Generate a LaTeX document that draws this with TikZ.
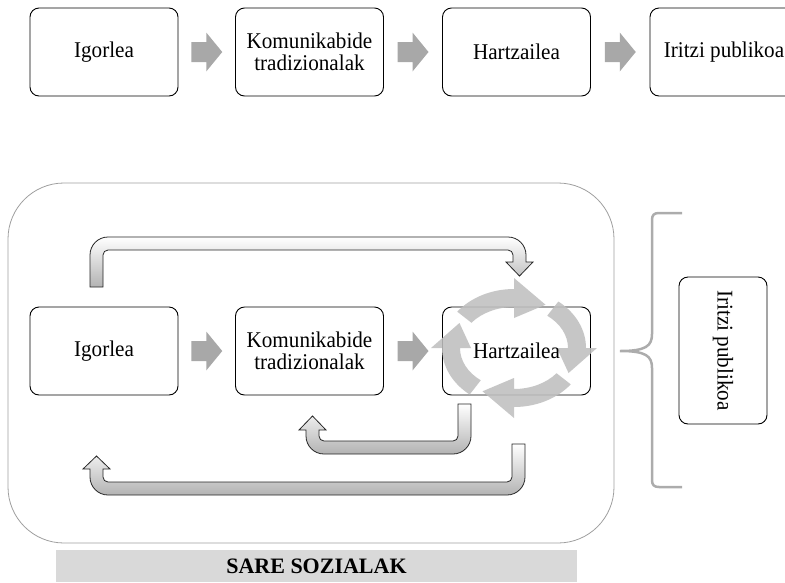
\documentclass[tikz,border=0pt]{standalone}
\usepackage{fontspec}
\setmainfont{Liberation Serif}[FakeStretch=0.94]
\newfontfamily\labelserif{Liberation Serif}
\usetikzlibrary{calc}
\tikzset{
  box/.style={draw=black, line width=0.9pt, rounded corners=9pt, fill=white,
    minimum width=148pt, minimum height=88pt, inner sep=0pt, align=center,
    font=\fontsize{22.5}{22.5}\selectfont},
  txt/.style={inner sep=0pt, align=center, font=\fontsize{22.5}{22.5}\selectfont},
  blockarr/.pic={\fill[gray!68] (-15.5,-10) -- (-0.5,-10) -- (-0.5,-19.5) -- (15.5,0)
     -- (-0.5,19.5) -- (-0.5,10) -- (-15.5,10) -- cycle;},
  bent/.style={draw=black!85, line width=0.8pt, top color=white, bottom color=gray!60},
  cyc/.style={fill=gray!50, fill opacity=0.88},
  bigframe/.style={draw=gray!75, line width=0.8pt, rounded corners=56pt},
  bracestyle/.style={draw=gray!65, line width=2.5pt},
}
\newcommand\cycseg[3]{%
  \path[cyc] (#1:72 and 59) arc[start angle=#1, end angle=#2, x radius=72, y radius=59]
    -- (#2:83 and 70) -- (#3:63 and 50) -- (#2:43 and 30) -- (#2:54 and 41)
    arc[start angle=#2, end angle=#1, x radius=54, y radius=41] -- cycle;}
\begin{document}
\begin{tikzpicture}[x=1pt,y=-1pt]
\useasboundingbox (0,0) rectangle (785,582);
\clip (0,0) rectangle (785,582);

% ---------- top row ----------
\node[box] (i1) at (104,52) {Igorlea};
\node[box] (k1) at (309.5,52) {Komunikabide\\tradizionalak};
\node[box] (h1) at (516.5,52) {Hartzailea};
\node[box] (p1) at (724,52) {Iritzi publikoa};
\pic at ($(i1.east)!0.5!(k1.west)$) {blockarr};
\pic at ($(k1.east)!0.5!(h1.west)$) {blockarr};
\pic at ($(h1.east)!0.5!(p1.west)$) {blockarr};

% ---------- social networks frame ----------
\draw[bigframe] (8,183) rectangle (614,543);

% ---------- bottom row ----------
\node[box] (i2) at (104,351) {Igorlea};
\node[box] (k2) at (309.5,351) {Komunikabide\\tradizionalak};
\node[box] (h2) at (516.5,351) {};
\pic at ($(i2.east)!0.5!(k2.west)$) {blockarr};
\pic at ($(k2.east)!0.5!(h2.west)$) {blockarr};

% bent arrow: Igorlea -> Hartzailea (over the top)
\path[bent] (90,287) -- (90,255) arc[start angle=180, end angle=270, radius=18]
  -- (508,237) arc[start angle=270, end angle=360, radius=18]
  -- (526,262) -- (533,262) -- (519.5,276) -- (506,262) -- (513,262) -- (513,255)
  arc[start angle=0, end angle=-90, radius=5] -- (108,250)
  arc[start angle=270, end angle=180, radius=5] -- (103,287) -- cycle;

% bent arrow: Hartzailea -> Komunikabide (below)
\path[bent] (458,404) -- (471,404) -- (471,436) arc[start angle=0, end angle=90, radius=18]
  -- (324,454) arc[start angle=90, end angle=180, radius=18]
  -- (306,430) -- (299,430) -- (312.5,416) -- (326,430) -- (319,430) -- (319,436)
  arc[start angle=180, end angle=90, radius=5] -- (453,441)
  arc[start angle=90, end angle=0, radius=5] -- cycle;

% bent arrow: Hartzailea -> Igorlea (below)
\path[bent] (512,444) -- (525,444) -- (525,477) arc[start angle=0, end angle=90, radius=18]
  -- (108,495) arc[start angle=90, end angle=180, radius=18]
  -- (90,469) -- (83,469) -- (96.5,456) -- (110,469) -- (103,469) -- (103,477)
  arc[start angle=180, end angle=90, radius=5] -- (507,482)
  arc[start angle=90, end angle=0, radius=5] -- cycle;

% cycle arrows around Hartzailea
\begin{scope}[shift={(514,348)}]
  \cycseg{218}{270}{300}
  \cycseg{308}{360}{390}
  \cycseg{38}{90}{120}
  \cycseg{128}{180}{210}
\end{scope}
\node[txt] (h2t) at (h2.center) {Hartzailea};

% ---------- brace and public opinion ----------
\draw[bracestyle] (682,213) -- (659,213) .. controls (654,213) and (652,215) .. (652,220)
  -- (652,334) .. controls (652,346) and (646,351) .. (620,351)
  .. controls (646,351) and (652,356) .. (652,368)
  -- (652,480) .. controls (652,485) and (654,487) .. (659,487) -- (682,487);
\node[box, rotate=-90, minimum width=147pt, minimum height=88pt] (p2) at (723,350.5) {Iritzi publikoa};

% ---------- label ----------
\node[fill=gray!30, minimum width=521pt, minimum height=32pt, inner sep=0pt,
  font=\labelserif\bfseries\fontsize{22}{24}\selectfont] (sare) at (316.5,566) {SARE SOZIALAK};
\end{tikzpicture}
\end{document}
